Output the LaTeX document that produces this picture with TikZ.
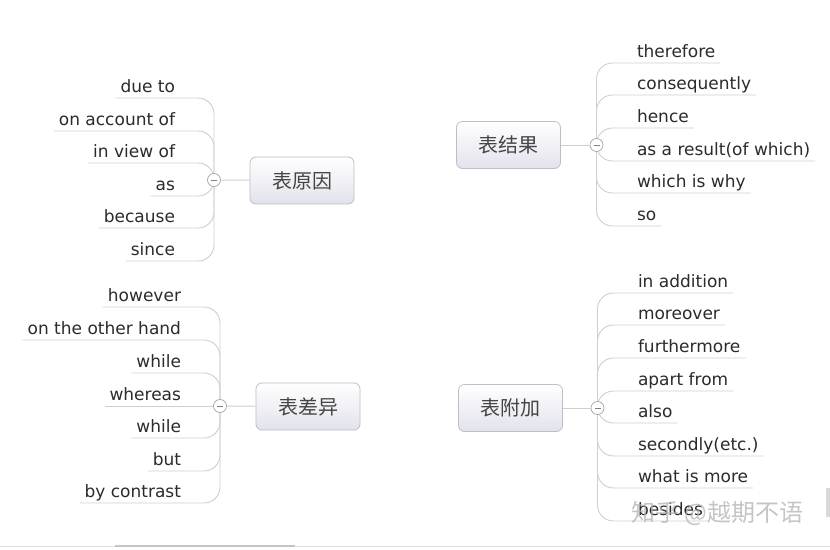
\documentclass[tikz,border=0pt]{standalone}
\usepackage{fontspec}
\setmainfont{DejaVu Sans}
\newfontfamily\cjk{Noto Sans CJK SC}
\definecolor{txt}{HTML}{2B2B2B}
\definecolor{ln}{HTML}{CFCFCF}
\definecolor{bx}{HTML}{BDBDC8}
\definecolor{bxbot}{HTML}{E2E2EC}
\definecolor{cjktxt}{HTML}{454545}
\begin{document}
\begin{tikzpicture}[x=1pt,y=-1pt,
  itm/.style={font=\fontsize{17}{19}\selectfont, text=txt, inner xsep=5pt, inner ysep=0pt,
              text height=12pt, text depth=6pt, outer sep=0pt},
  litem/.style={itm, anchor=south east},
  ritem/.style={itm, anchor=south west},
  topic/.style={draw=bx, line width=0.8pt, rounded corners=6pt, top color=white, bottom color=bxbot,
                minimum width=104pt, minimum height=47pt, inner sep=0pt,
                font=\cjk\fontsize{20}{24}\selectfont, text=cjktxt},
  fold/.style={circle, draw=ln!80!black, line width=0.7pt, fill=white, minimum size=13pt, inner sep=0pt,
               path picture={\draw[gray, line width=0.8pt] ([xshift=-3pt]path picture bounding box.center) -- ([xshift=3pt]path picture bounding box.center);}},
  branch/.style={draw=ln, line width=0.9pt, rounded corners=16pt},
  link/.style={draw=ln, line width=0.9pt}
]
\useasboundingbox (0,0) rectangle (830,549);
\fill[white] (0,0) rectangle (830,549);

% ---------- top left: 表原因 ----------
\node[topic] (t1) at (302,180.5) {表原因};
\coordinate (c1) at (214,180);
\node[litem] (a1) at (180,98) {due to};
\node[litem] (a2) at (180,131) {on account of};
\node[litem] (a3) at (180,163) {in view of};
\node[litem] (a4) at (180,196) {as};
\node[litem] (a5) at (180,228) {because};
\node[litem] (a6) at (180,261) {since};
\foreach \i in {1,...,6} {\draw[branch] (c1) |- (a\i.south west);}
\node[fold] (f1) at (c1) {};
\draw[link] (f1) -- (t1);

% ---------- top right: 表结果 ----------
\node[topic] (t2) at (508.5,145) {表结果};
\coordinate (c2) at (596.5,145);
\node[ritem] (b1) at (632,63) {therefore};
\node[ritem] (b2) at (632,95) {consequently};
\node[ritem] (b3) at (632,128) {hence};
\node[ritem] (b4) at (632,161) {as a result(of which)};
\node[ritem] (b5) at (632,193) {which is why};
\node[ritem] (b6) at (632,226) {so};
\foreach \i in {1,...,6} {\draw[branch] (c2) |- (b\i.south east);}
\node[fold] (f2) at (c2) {};
\draw[link] (t2) -- (f2);

% ---------- bottom left: 表差异 ----------
\node[topic] (t3) at (308,406.5) {表差异};
\coordinate (c3) at (220,406);
\node[litem] (d1) at (186,307) {however};
\node[litem] (d2) at (186,340) {on the other hand};
\node[litem] (d3) at (186,373) {while};
\node[litem] (d4) at (186,406) {whereas};
\node[litem] (d5) at (186,438) {while};
\node[litem] (d6) at (186,471) {but};
\node[litem] (d7) at (186,503) {by contrast};
\foreach \i in {1,2,3,5,6,7} {\draw[branch] (c3) |- (d\i.south west);}
\draw[link] (c3) -- (d4.south west);
\node[fold] (f3) at (c3) {};
\draw[link] (f3) -- (t3);

% ---------- bottom right: 表附加 ----------
\node[topic] (t4) at (510.5,408) {表附加};
\coordinate (c4) at (597.5,408);
\node[ritem] (e1) at (633,293) {in addition};
\node[ritem] (e2) at (633,325) {moreover};
\node[ritem] (e3) at (633,358) {furthermore};
\node[ritem] (e4) at (633,391) {apart from};
\node[ritem] (e5) at (633,423) {also};
\node[ritem] (e6) at (633,456) {secondly(etc.)};
\node[ritem] (e7) at (633,488) {what is more};
\node[ritem] (e8) at (633,521) {besides};
\foreach \i in {1,...,8} {\draw[branch] (c4) |- (e\i.south east);}
\node[fold] (f4) at (c4) {};
\draw[link] (t4) -- (f4);

% ---------- watermark and frame bits ----------
\node[font=\cjk\fontsize{24}{28}\selectfont, text=gray!60, opacity=0.75, anchor=west] (wm) at (628,513) {知乎 @越期不语};
\draw[gray!25, line width=1pt] (0,546) -- (830,546);
\draw[gray!45, line width=1.2pt] (115,546) -- (295,546);
\fill[gray!30] (826,488) rectangle (830,517);
\end{tikzpicture}
\end{document}
